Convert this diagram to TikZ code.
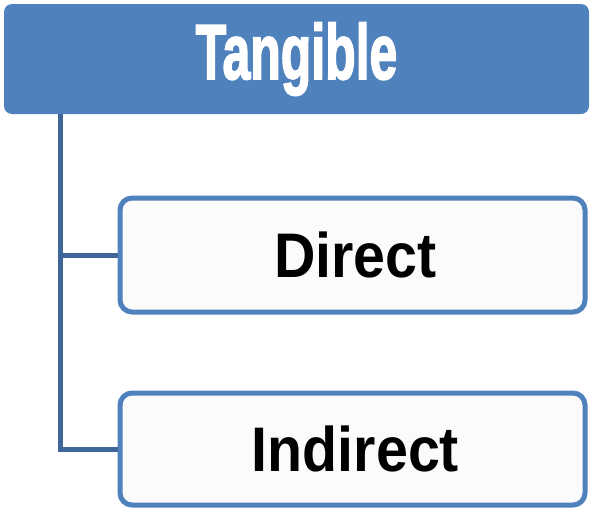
\documentclass[tikz,border=0pt]{standalone}
\usepackage{fontspec}
\setmainfont{Liberation Sans}
\newfontfamily\headfont[UprightFont=* Bold,FakeBold=2.5]{Liberation Sans}
\usetikzlibrary{positioning}
\definecolor{headblue}{HTML}{4F81BD}
\definecolor{trunkblue}{HTML}{3F6699}
\definecolor{boxfill}{HTML}{FBFBFB}

\begin{document}
\begin{tikzpicture}[x=1pt,y=-1pt,
    headbox/.style={fill=headblue,draw=none,rounded corners=8pt,minimum width=585pt,minimum height=110pt,inner sep=0pt,text=white},
    itembox/.style={fill=boxfill,draw=headblue,line width=5pt,rounded corners=12pt,minimum width=465pt,inner sep=0pt},
    trunkline/.style={draw=trunkblue,line width=5pt}]
                \useasboundingbox (0,0) rectangle (594,512);
                \node[headbox] (tangible) at (296.5,59) {\scalebox{0.64}[1]{\fontsize{78}{80}\headfont Tangible}};
                \node[itembox,minimum height=114pt] (direct) at (352.5,255) {\hspace{6pt}\scalebox{0.91}[1]{\fontsize{63}{66}\selectfont\bfseries Direct}};
                \node[itembox,minimum height=112pt] (indirect) at (352.5,449) {\hspace{6pt}\scalebox{0.91}[1]{\fontsize{63}{66}\selectfont\bfseries Indirect}};
                \coordinate (trunk) at (60,114);
                \draw[trunkline] (trunk) |- (indirect.west);
                \draw[trunkline] (trunk |- direct.west) -- (direct.west);
            \end{tikzpicture}
\end{document}
